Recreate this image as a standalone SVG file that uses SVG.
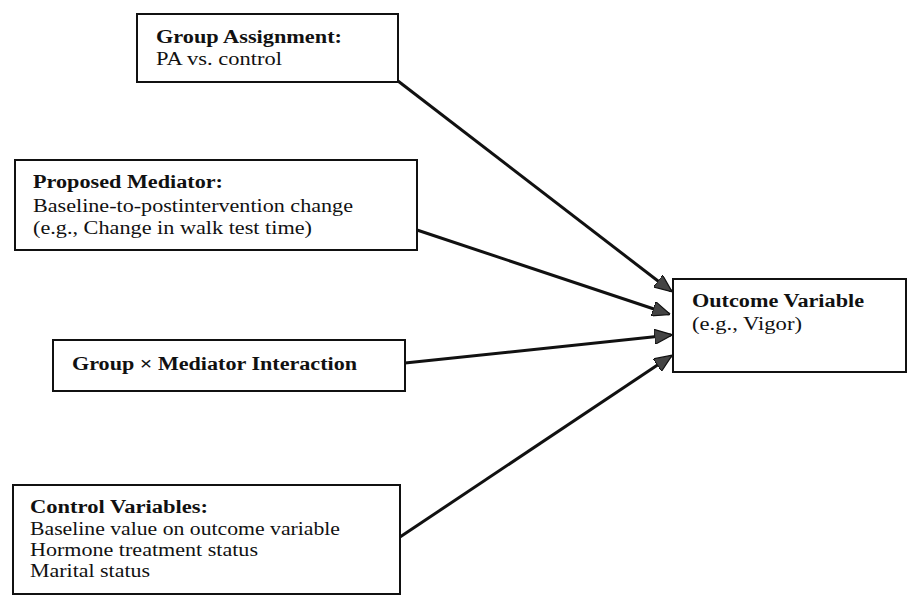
<svg xmlns="http://www.w3.org/2000/svg" width="908" height="598" viewBox="0 0 908 598">
<style>
.box{fill:#fff;stroke:#111;stroke-width:2}
text{font-family:"Liberation Serif","Times New Roman",serif;font-size:18px;fill:#111}
.b{font-weight:bold}
.edge{stroke:#111;stroke-width:3;fill:none;marker-end:url(#ah)}
</style>
<defs>
<marker id="ah" markerWidth="6" markerHeight="5" refX="5.5" refY="2.5" orient="auto" markerUnits="strokeWidth">
<path d="M0,0 L6,2.5 L0,5 Z" fill="#444" stroke="#111" stroke-width="0.4"/>
</marker>
</defs>
<rect width="908" height="598" fill="#fff"/>
<g id="connectors">
<line class="edge" x1="398" y1="81" x2="671" y2="291"/>
<line class="edge" x1="417" y1="230" x2="669" y2="314"/>
<line class="edge" x1="405" y1="363" x2="671" y2="335"/>
<line class="edge" x1="400" y1="537" x2="671" y2="356"/>
</g>
<g id="group-assignment">
<rect class="box" x="137" y="14" width="261" height="68"/>
<text class="b" x="156" y="43" textLength="186" lengthAdjust="spacingAndGlyphs">Group Assignment:</text>
<text x="156" y="65" textLength="126" lengthAdjust="spacingAndGlyphs">PA vs. control</text>
</g>
<g id="proposed-mediator">
<rect class="box" x="15" y="160" width="402" height="90"/>
<text class="b" x="33" y="188" textLength="190" lengthAdjust="spacingAndGlyphs">Proposed Mediator:</text>
<text x="33" y="212" textLength="320" lengthAdjust="spacingAndGlyphs">Baseline-to-postintervention change</text>
<text x="33" y="234" textLength="279" lengthAdjust="spacingAndGlyphs">(e.g., Change in walk test time)</text>
</g>
<g id="interaction">
<rect class="box" x="53" y="340" width="352" height="51"/>
<text class="b" x="72" y="370" textLength="285" lengthAdjust="spacingAndGlyphs">Group × Mediator Interaction</text>
</g>
<g id="control-variables">
<rect class="box" x="13" y="485" width="387" height="109"/>
<text class="b" x="30" y="513" textLength="178" lengthAdjust="spacingAndGlyphs">Control Variables:</text>
<text x="30" y="535" textLength="310" lengthAdjust="spacingAndGlyphs">Baseline value on outcome variable</text>
<text x="30" y="556" textLength="228" lengthAdjust="spacingAndGlyphs">Hormone treatment status</text>
<text x="30" y="577" textLength="120" lengthAdjust="spacingAndGlyphs">Marital status</text>
</g>
<g id="outcome">
<rect class="box" x="673" y="279" width="233" height="93"/>
<text class="b" x="692" y="307" textLength="172" lengthAdjust="spacingAndGlyphs">Outcome Variable</text>
<text x="692" y="330" textLength="110" lengthAdjust="spacingAndGlyphs">(e.g., Vigor)</text>
</g>
</svg>
